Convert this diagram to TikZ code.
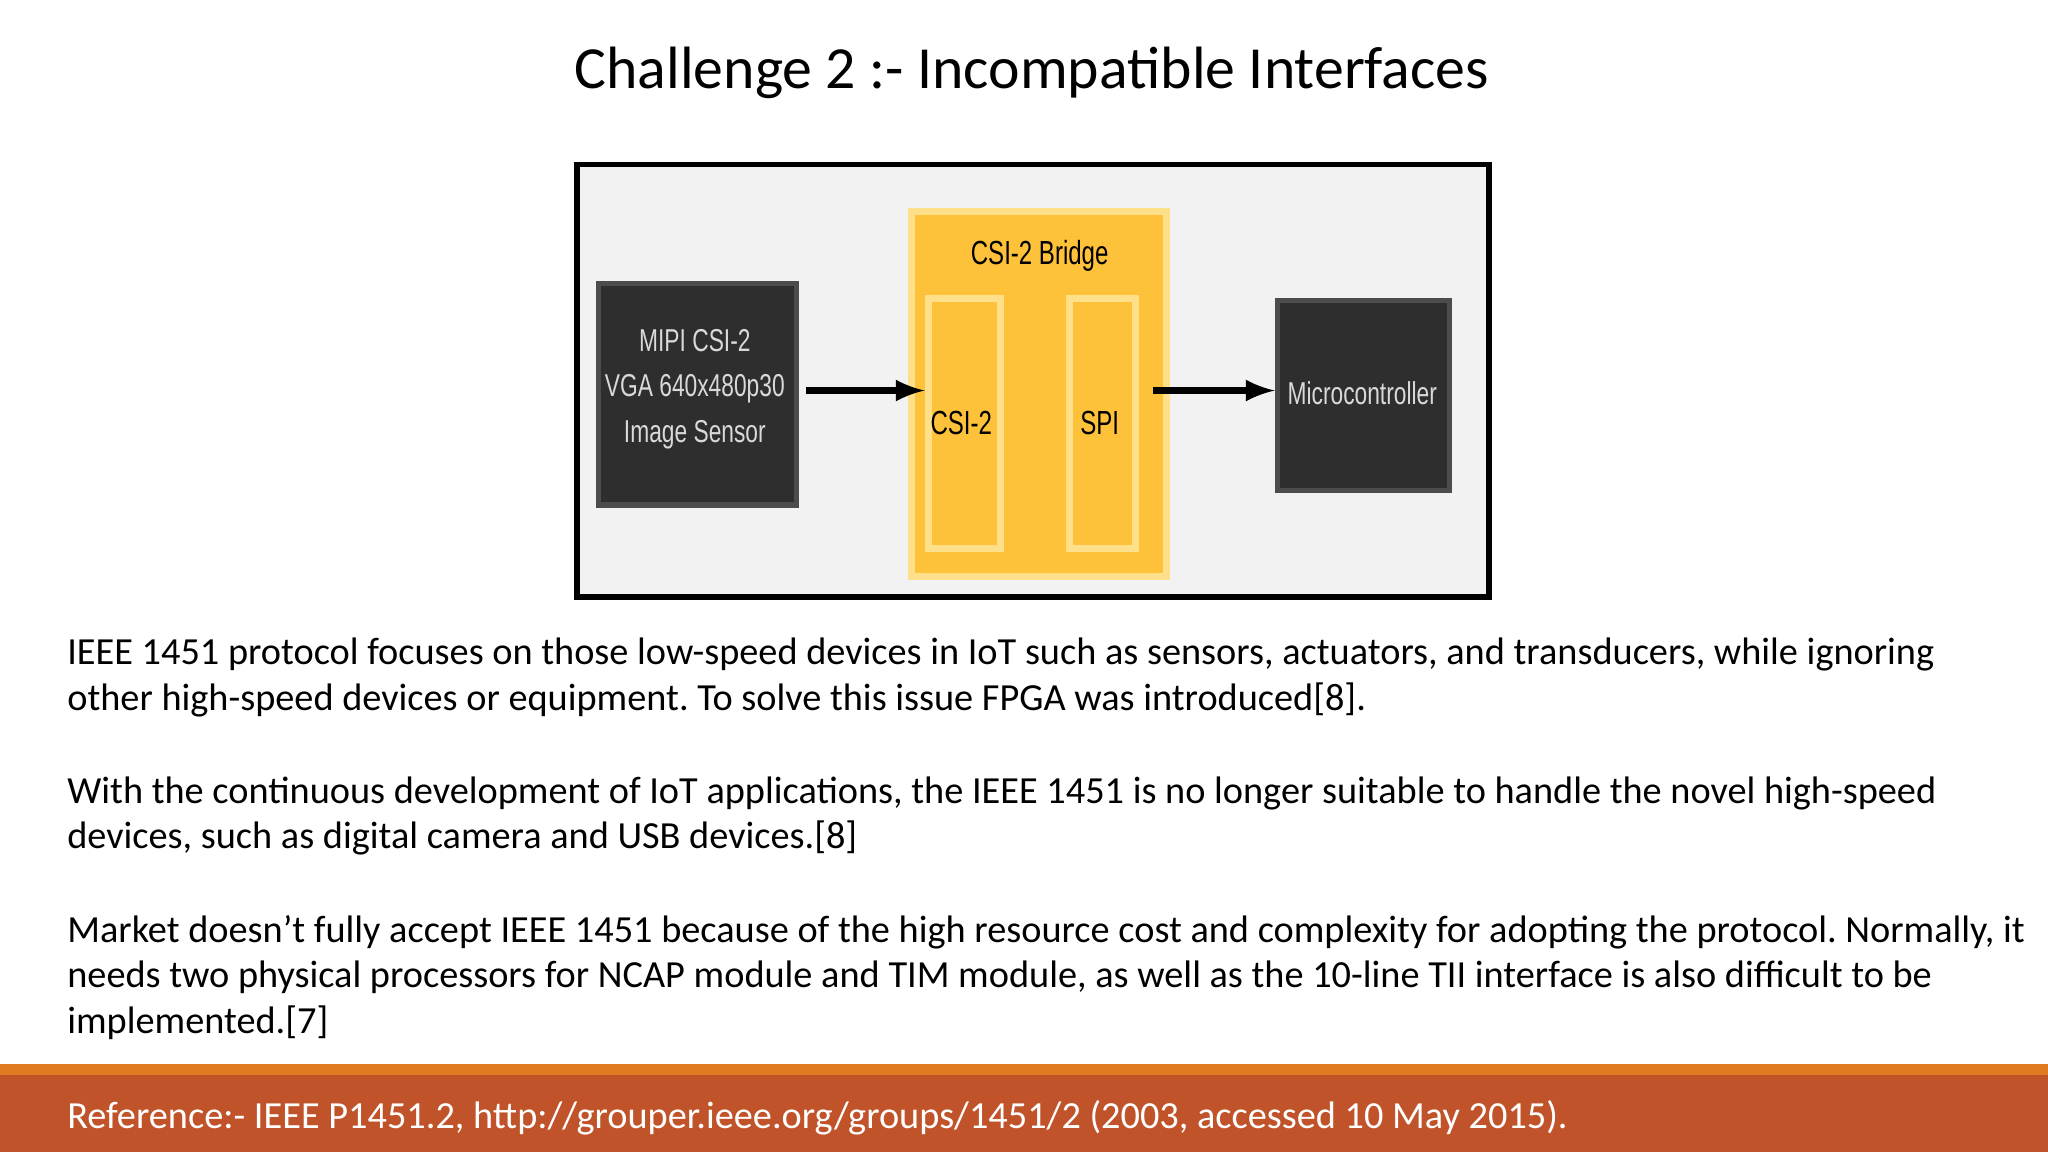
\documentclass[tikz,border=0pt]{standalone}
\usepackage{fontspec}
\setmainfont{Carlito}
\newfontfamily\cond[FakeStretch=0.72]{Liberation Sans}
\definecolor{orline}{HTML}{E07B22}
\definecolor{foot}{HTML}{C0532A}
\definecolor{ybox}{HTML}{FDC239}
\definecolor{yedge}{HTML}{FFE08A}
\definecolor{dbox}{HTML}{2E2E2E}
\begin{document}
\begin{tikzpicture}[x=0.013061cm,y=-0.013061cm,
  dark/.style={draw=black!70,line width=1.5pt,fill=dbox,text=white!85!black,font=\cond\fontsize{9}{13}\selectfont,align=center},
  ybx/.style={draw=yedge,line width=2pt,fill=ybox,anchor=north west},
  body/.style={anchor=north west,align=left,font=\frenchspacing\fontsize{10.9}{13}\selectfont,inner sep=0},
  arr/.style={-latex,line width=1.8pt}]
\useasboundingbox (0,0) rectangle (1568,882);
\fill[white] (0,0) rectangle (1568,882);
\node (title) at (790,56) {\fontsize{17}{20}\selectfont Challenge 2 :- Incompatible Interfaces};
\draw[line width=1.6pt,fill=gray!10] (442,126) rectangle (1140,457);
\node[ybx,minimum width=72.5pt,minimum height=104pt] (bridge) at (695,159) {};
\node[font=\cond\fontsize{9.5}{12}\selectfont] (bl) at (796,196) {CSI-2 Bridge};
\node[ybx,minimum width=20.5pt,minimum height=71pt] (csi) at (708,226) {};
\node[ybx,minimum width=18.7pt,minimum height=71pt] (spi) at (816,226) {};
\node[font=\cond\fontsize{9.5}{12}\selectfont] at (736,324) {CSI-2};
\node[font=\cond\fontsize{9.5}{12}\selectfont] at (842,324) {SPI};
\node[dark,minimum width=56.5pt,minimum height=63pt,anchor=north west] (sensor) at (456,215) {};
\node[dark,draw=none,fill=none] at (532,298) {MIPI CSI-2\\VGA 640x480p30\\Image Sensor};
\node[dark,minimum width=49pt,minimum height=54pt,anchor=north west] (mc) at (976,228) {};
\node[dark,draw=none,fill=none] at (1043,301) {Microcontroller};
\coordinate (a1) at (617,299);
\coordinate (a2) at (883,299);
\draw[arr] (a1) -- (csi.west|-a1);
\draw[arr] (a2) -- (mc.west|-a2);
\node[body] (p1) at (51,488) {IEEE 1451 protocol focuses on those low-speed devices in IoT such as sensors, actuators, and transducers, while ignoring\\other high-speed devices or equipment. To solve this issue FPGA was introduced[8].};
\node[body] (p2) at (51,594) {With the continuous development of IoT applications, the IEEE 1451 is no longer suitable to handle the novel high-speed\\devices, such as digital camera and USB devices.[8]};
\node[body] (p3) at (51,700) {Market doesn’t fully accept IEEE 1451 because of the high resource cost and complexity for adopting the protocol. Normally, it\\needs two physical processors for NCAP module and TIM module, as well as the 10-line TII interface is also difficult to be\\implemented.[7]};
\fill[orline] (0,815) rectangle (1568,823);
\fill[foot] (0,823) rectangle (1568,882);
\node[anchor=west,text=white,font=\fontsize{10.9}{12}\selectfont,inner sep=0] (ref) at (51,856) {Reference:- IEEE P1451.2, http://grouper.ieee.org/groups/1451/2 (2003, accessed 10 May 2015).};
\end{tikzpicture}
\end{document}
